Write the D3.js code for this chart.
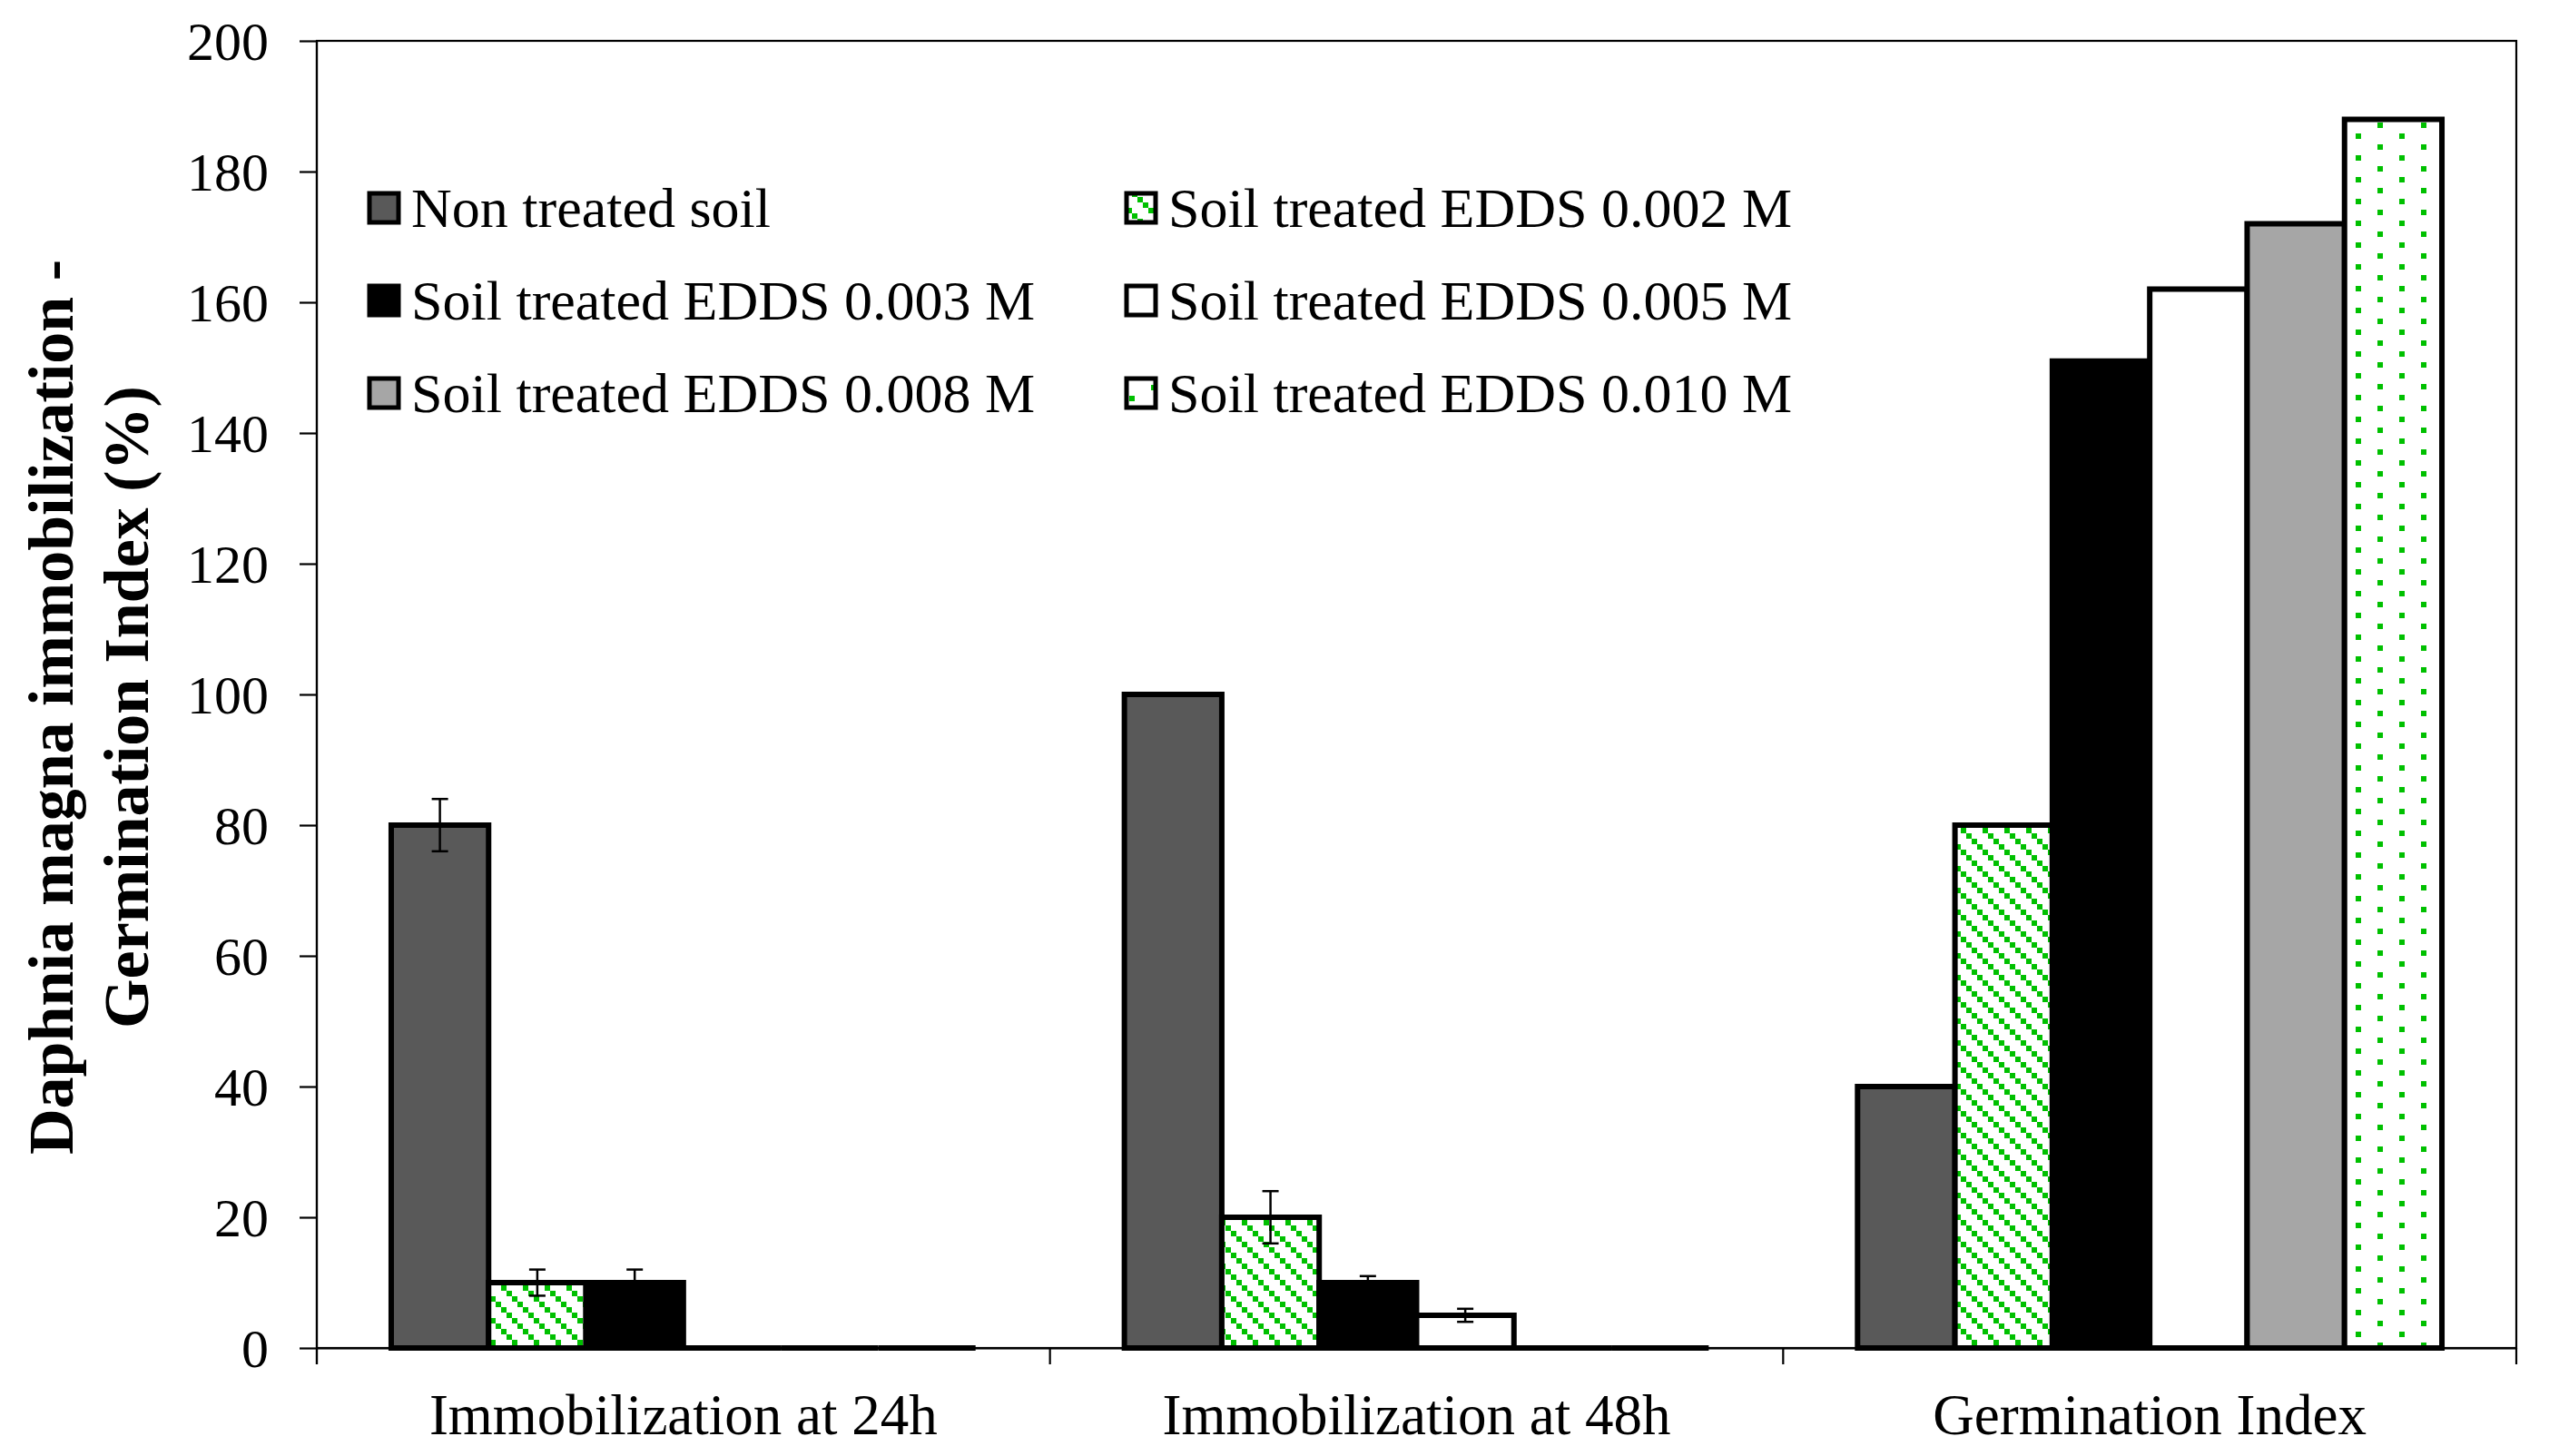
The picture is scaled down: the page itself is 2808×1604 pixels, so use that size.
<!DOCTYPE html>
<html>
<head>
<meta charset="utf-8">
<script src="https://cdn.jsdelivr.net/npm/d3@7"></script>
<style>
  html, body { margin: 0; padding: 0; background: #ffffff; }
  svg { display: block; }
  text { font-family: "Liberation Serif", "Times New Roman", serif; fill: #000; }
</style>
</head>
<body>
<svg id="chart" width="2808" height="1604"></svg>
<script>
// ---------- data ----------
const categories = ["Immobilization at 24h", "Immobilization at 48h", "Germination Index"];
const seriesNames = [
  "Non treated soil",
  "Soil treated EDDS 0.002 M",
  "Soil treated EDDS 0.003 M",
  "Soil treated EDDS 0.005 M",
  "Soil treated EDDS 0.008 M",
  "Soil treated EDDS 0.010 M"
];
const nonTreated = [80, 100, 40];
const edds002 = [10, 20, 80];
const edds003 = [10, 10, 151];
const edds005 = [0, 5, 162];
const edds008 = [0, 0, 172];
const edds010 = [0, 0, 188];
const nonTreatedErr = [4, 0, 0];
const edds002Err = [2, 4, 0];
const edds003Err = [2, 1, 0];
const edds005Err = [0, 1, 0];
const edds008Err = [0, 0, 0];
const edds010Err = [0, 0, 0];
const yTicks = [0, 20, 40, 60, 80, 100, 120, 140, 160, 180, 200];
const yTitleLines = ["Daphnia magna immobilization -", "Germination Index (%)"];

(function () {
const seriesValues = [nonTreated, edds002, edds003, edds005, edds008, edds010];
const seriesErrors = [nonTreatedErr, edds002Err, edds003Err, edds005Err, edds008Err, edds010Err];
const seriesFills = ["#595959", "url(#diagGreen)", "#000000", "#ffffff", "#a6a6a6", "url(#dotGreen)"];

// ---------- layout ----------
const pL = 349, pR = 2772, pT = 45, pB = 1485;
const svg = d3.select("#chart");

// patterns
const defs = svg.append("defs");
const pd = defs.append("pattern").attr("id", "diagGreen")
  .attr("patternUnits", "userSpaceOnUse").attr("width", 24).attr("height", 24);
pd.append("rect").attr("width", 24).attr("height", 24).attr("fill", "#fff");
[0, 6, 12, 18].forEach(o => pd.append("rect").attr("x", o).attr("y", o)
  .attr("width", 6).attr("height", 6).attr("fill", "#00c000"));

const pdot = defs.append("pattern").attr("id", "dotGreen")
  .attr("patternUnits", "userSpaceOnUse").attr("width", 48).attr("height", 24);
pdot.append("rect").attr("width", 48).attr("height", 24).attr("fill", "#fff");
[[0, 0], [24, 12]].forEach(([px, py]) => pdot.append("rect").attr("x", px + 3).attr("y", py + 3)
  .attr("width", 6).attr("height", 6).attr("fill", "#00c000"));

// scales
const x0 = d3.scaleBand().domain(categories).range([pL, pR]).paddingInner(0).paddingOuter(0);
const x1 = d3.scaleBand().domain(d3.range(seriesNames.length)).range([0, x0.bandwidth()])
  .paddingInner(0).paddingOuter(0.764);
const y = d3.scaleLinear().domain([0, 200]).range([pB, pT]);

// plot frame (top & right)
svg.append("rect").attr("x", pL).attr("y", pT)
  .attr("width", pR - pL).attr("height", pB - pT)
  .attr("fill", "none").attr("stroke", "#000").attr("stroke-width", 2.2);

// y axis
const yAxis = svg.append("g").attr("transform", `translate(${pL},0)`)
  .call(d3.axisLeft(y).tickValues(yTicks).tickSize(19).tickPadding(34).tickFormat(d3.format("d")));
yAxis.select(".domain").attr("stroke-width", 2.2).attr("d", `M0,${pT}V${pB + 18}`);
yAxis.selectAll(".tick line").attr("stroke-width", 2.2);
yAxis.selectAll(".tick text").style("font-size", "60px")
  .style("font-family", '"Liberation Serif", "Times New Roman", serif').attr("dy", "0.34em");

// x axis baseline + boundary ticks
const xAxis = svg.append("g").attr("transform", `translate(0,${pB})`)
  .call(d3.axisBottom(x0).tickSize(0).tickPadding(50));
xAxis.select(".domain").attr("stroke-width", 2.2);
xAxis.selectAll(".tick text").style("font-size", "63px")
  .style("font-family", '"Liberation Serif", "Times New Roman", serif').attr("dy", "0.71em");
const bounds = categories.map(c => x0(c)).concat([x0(categories[categories.length - 1]) + x0.bandwidth()]);
xAxis.selectAll(".bound").data(bounds).join("line").attr("class", "bound")
  .attr("x1", d => d).attr("x2", d => d).attr("y1", 0).attr("y2", 18)
  .attr("stroke", "#000").attr("stroke-width", 2.2);

// bars (paths so that zero-valued bars still show their outline)
const barData = [];
seriesValues.forEach((vals, si) => vals.forEach((v, ci) =>
  barData.push({ si, ci, v, e: seriesErrors[si][ci] })));

svg.append("g").selectAll("path").data(barData).join("path")
  .attr("d", d => {
    const bx = x0(categories[d.ci]) + x1(d.si), bw = x1.bandwidth();
    const yt = y(d.v), yb = y(0);
    return `M${bx},${yb}V${yt}H${bx + bw}V${yb}Z`;
  })
  .attr("fill", d => seriesFills[d.si])
  .attr("stroke", "#000").attr("stroke-width", 6).attr("stroke-linejoin", "miter");

// error bars
const eb = svg.append("g").selectAll("g").data(barData.filter(d => d.e > 0)).join("g")
  .attr("transform", d => `translate(${x0(categories[d.ci]) + x1(d.si) + x1.bandwidth() / 2},0)`);
eb.append("line").attr("x1", 0).attr("x2", 0)
  .attr("y1", d => y(d.v + d.e)).attr("y2", d => y(d.v - d.e))
  .attr("stroke", "#000").attr("stroke-width", 2.5);
eb.append("line").attr("x1", -9).attr("x2", 9)
  .attr("y1", d => y(d.v + d.e)).attr("y2", d => y(d.v + d.e))
  .attr("stroke", "#000").attr("stroke-width", 2.5);
eb.append("line").attr("x1", -9).attr("x2", 9)
  .attr("y1", d => y(d.v - d.e)).attr("y2", d => y(d.v - d.e))
  .attr("stroke", "#000").attr("stroke-width", 2.5);

// legend
const legCols = [407, 1241], legRows = [229, 331, 433];
const leg = svg.append("g").selectAll("g").data(seriesNames).join("g")
  .attr("transform", (d, i) => `translate(${legCols[i % 2]},${legRows[Math.floor(i / 2)]})`);
leg.append("rect").attr("x", 0).attr("y", -16).attr("width", 32).attr("height", 32)
  .attr("fill", (d, i) => seriesFills[i]).attr("stroke", "#000").attr("stroke-width", 5);
leg.append("text").attr("x", 46).attr("y", 21).style("font-size", "62px").text(d => d);

// y title
const yt = svg.append("text").attr("transform", "translate(80,779) rotate(-90)")
  .attr("text-anchor", "middle").style("font-size", "70px").style("font-weight", "bold");
yt.append("tspan").attr("x", 0).attr("y", 0).text(yTitleLines[0]);
yt.append("tspan").attr("x", 0).attr("y", 83).text(yTitleLines[1]);
})();
</script>
</body>
</html>
